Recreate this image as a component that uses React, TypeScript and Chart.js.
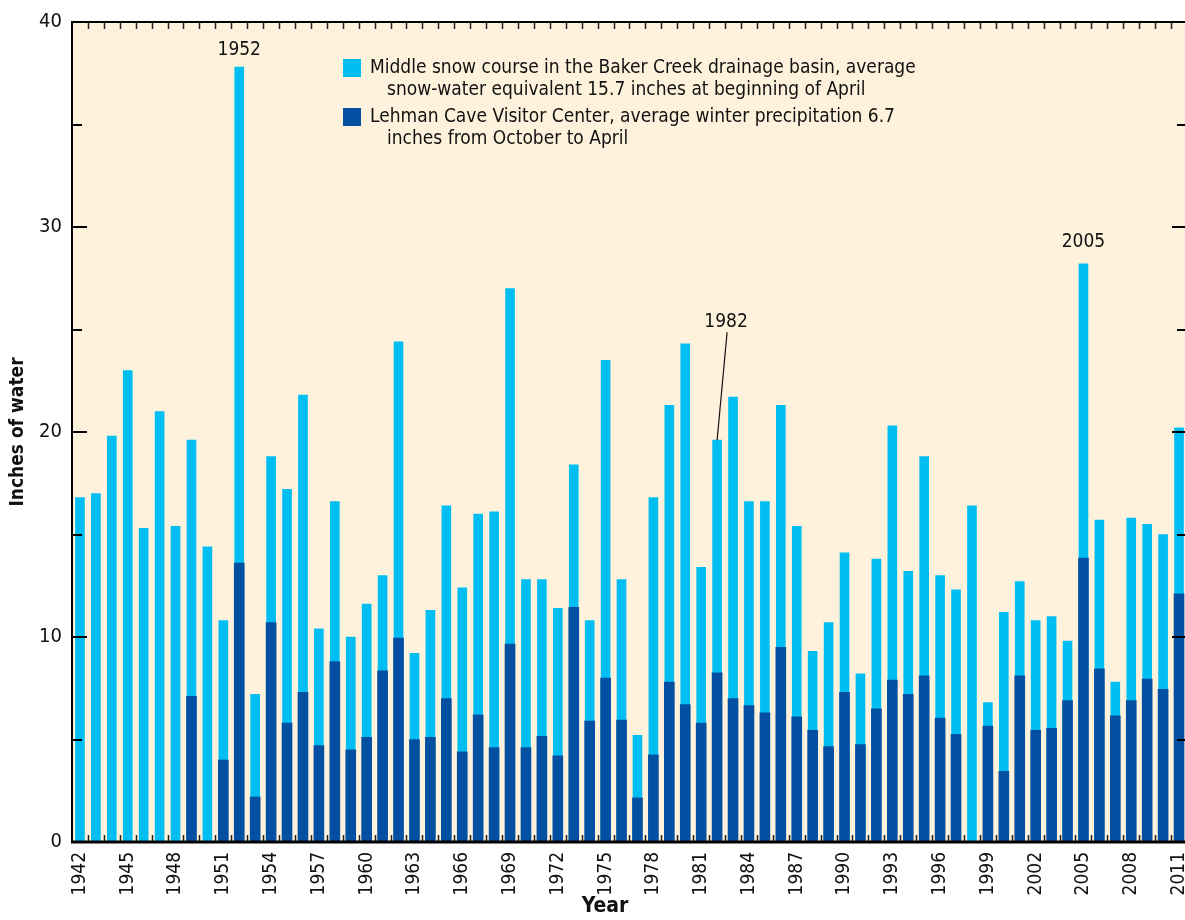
import { useEffect, useRef } from "react";
import { Chart, registerables } from "chart.js";

Chart.register(...registerables);

const years = [
  "1942","1943","1944","1945","1946","1947","1948","1949","1950","1951",
  "1952","1953","1954","1955","1956","1957","1958","1959","1960","1961",
  "1962","1963","1964","1965","1966","1967","1968","1969","1970","1971",
  "1972","1973","1974","1975","1976","1977","1978","1979","1980","1981",
  "1982","1983","1984","1985","1986","1987","1988","1989","1990","1991",
  "1992","1993","1994","1995","1996","1997","1998","1999","2000","2001",
  "2002","2003","2004","2005","2006","2007","2008","2009","2010","2011",
];

// Middle snow course, Baker Creek drainage basin (snow-water equivalent, inches, beginning of April)
const snowWater = [
  16.8, 17.0, 19.8, 23.0, 15.3, 21.0, 15.4, 19.6, 14.4, 10.8,
  37.8, 7.2, 18.8, 17.2, 21.8, 10.4, 16.6, 10.0, 11.6, 13.0,
  24.4, 9.2, 11.3, 16.4, 12.4, 16.0, 16.1, 27.0, 12.8, 12.8,
  11.4, 18.4, 10.8, 23.5, 12.8, 5.2, 16.8, 21.3, 24.3, 13.4,
  19.6, 21.7, 16.6, 16.6, 21.3, 15.4, 9.3, 10.7, 14.1, 8.2,
  13.8, 20.3, 13.2, 18.8, 13.0, 12.3, 16.4, 6.8, 11.2, 12.7,
  10.8, 11.0, 9.8, 28.2, 15.7, 7.8, 15.8, 15.5, 15.0, 20.2,
];

// Lehman Cave Visitor Center winter precipitation (inches, October to April)
const precipitation = [
  null, null, null, null, null, null, null, 7.1, null, 4.0,
  13.6, 2.2, 10.7, 5.8, 7.3, 4.7, 8.8, 4.5, 5.1, 8.35,
  9.95, 5.0, 5.1, 7.0, 4.4, 6.2, 4.6, 9.65, 4.6, 5.15,
  4.2, 11.45, 5.9, 8.0, 5.95, 2.15, 4.25, 7.8, 6.7, 5.8,
  8.25, 7.0, 6.65, 6.3, 9.5, 6.1, 5.45, 4.65, 7.3, 4.75,
  6.5, 7.9, 7.2, 8.1, 6.05, 5.25, null, 5.65, 3.45, 8.1,
  5.45, 5.55, 6.9, 13.85, 8.45, 6.15, 6.9, 7.95, 7.45, 12.1,
];

const labeledXTicks = [
  "1942","1945","1948","1951","1954","1957","1960","1963","1966","1969",
  "1972","1975","1978","1981","1984","1987","1990","1993","1996","1999",
  "2002","2005","2008","2011",
];

const yMajorTicks = [0, 10, 20, 30, 40];
const yMinorTicks = [5, 15, 25, 35];

const annotatedYears = ["1952", "1982", "2005"];

const legendLines = [
  ["Middle snow course in the Baker Creek drainage basin, average", "snow-water equivalent 15.7 inches at beginning of April"],
  ["Lehman Cave Visitor Center, average winter precipitation 6.7", "inches from October to April"],
];

const xTitle = "Year";
const yTitle = "Inches of water";

const LIGHT = "#00BEF2";
const DARK = "#0350A3";
const BG = "#FEF2DC";
const FONT = "'Liberation Sans Narrow', 'DejaVu Sans Condensed', 'Roboto Condensed', Roboto, sans-serif";

const decorPlugin = {
  id: "decor",
  beforeDraw(chart: any) {
    const { ctx, chartArea: a } = chart;
    ctx.save();
    ctx.fillStyle = "#ffffff";
    ctx.fillRect(0, 0, chart.width, chart.height);
    ctx.fillStyle = BG;
    ctx.fillRect(a.left, a.top, a.right - a.left, a.bottom - a.top);
    ctx.restore();
  },
  afterDatasetsDraw(chart: any) {
    const { ctx, chartArea: a } = chart;
    const xs = chart.scales.x;
    const ys = chart.scales.y;
    ctx.save();
    // category boundary ticks (top and bottom, inward)
    const w = xs.getPixelForValue(1) - xs.getPixelForValue(0);
    ctx.strokeStyle = "#222";
    ctx.lineWidth = 1.5;
    for (let i = 0; i < years.length - 1; i++) {
      const x = Math.round(xs.getPixelForValue(i) + w / 2) + 0.5;
      ctx.beginPath();
      ctx.moveTo(x, a.bottom);
      ctx.lineTo(x, a.bottom - 7);
      ctx.moveTo(x, a.top);
      ctx.lineTo(x, a.top + 7);
      ctx.stroke();
    }
    // y ticks, left and right, inward
    ctx.strokeStyle = "#000";
    ctx.lineWidth = 2;
    const drawY = (v: number, len: number) => {
      const y = Math.round(ys.getPixelForValue(v));
      ctx.beginPath();
      ctx.moveTo(a.left, y);
      ctx.lineTo(a.left + len, y);
      ctx.moveTo(a.right, y);
      ctx.lineTo(a.right - len, y);
      ctx.stroke();
    };
    yMajorTicks.forEach((v) => drawY(v, 15));
    yMinorTicks.forEach((v) => drawY(v, 10));
    // frame
    ctx.lineWidth = 2;
    ctx.beginPath();
    ctx.moveTo(a.left, a.bottom);
    ctx.lineTo(a.left, a.top);
    ctx.lineTo(a.right, a.top);
    ctx.lineTo(a.right, a.bottom);
    ctx.stroke();
    ctx.lineWidth = 3;
    ctx.beginPath();
    ctx.moveTo(a.left - 1, a.bottom);
    ctx.lineTo(a.right + 1, a.bottom);
    ctx.stroke();

    // annotations
    ctx.fillStyle = "#111";
    ctx.font = `19px ${FONT}`;
    ctx.textAlign = "center";
    ctx.textBaseline = "middle";
    annotatedYears.forEach((yr) => {
      const i = years.indexOf(yr);
      const x = xs.getPixelForValue(i);
      const top = ys.getPixelForValue(snowWater[i]);
      if (yr === "1982") {
        ctx.strokeStyle = "#111";
        ctx.lineWidth = 1.2;
        ctx.beginPath();
        ctx.moveTo(x, top);
        ctx.lineTo(x + 10, top - 108);
        ctx.stroke();
        ctx.fillText(yr, x + 9, top - 118);
      } else if (yr === "1952") {
        ctx.fillText(yr, x, top - 17);
      } else {
        ctx.fillText(yr, x, top - 22);
      }
    });

    // legend
    const colors = [LIGHT, DARK];
    ctx.textAlign = "left";
    ctx.font = `19px ${FONT}`;
    legendLines.forEach((lines, k) => {
      const y0 = 59 + k * 49;
      ctx.fillStyle = colors[k];
      ctx.fillRect(343, y0, 18, 18);
      ctx.fillStyle = "#111";
      ctx.fillText(lines[0], 370, y0 + 9);
      ctx.fillText(lines[1], 387, y0 + 31);
    });

    // x axis title
    ctx.textAlign = "center";
    ctx.font = `bold 21px ${FONT}`;
    ctx.fillText(xTitle, 605, 907);
    ctx.restore();
  },
};

export default function App() {
  const ref = useRef<HTMLCanvasElement>(null);
  useEffect(() => {
    document.body.style.margin = "0";
    const chart = new Chart(ref.current!, {
      type: "bar",
      data: {
        labels: years,
        datasets: [
          {
            label: "Middle snow course in the Baker Creek drainage basin",
            data: snowWater,
            backgroundColor: LIGHT,
            barThickness: 9,
            grouped: false,
            order: 2,
          },
          {
            label: "Lehman Cave Visitor Center",
            data: precipitation as any,
            backgroundColor: DARK,
            barThickness: 10,
            grouped: false,
            order: 1,
          },
        ],
      },
      options: {
        responsive: false,
        animation: false,
        layout: { padding: { top: 19, right: 23.5, left: 0, bottom: 0 } },
        plugins: { legend: { display: false }, tooltip: { enabled: false } },
        scales: {
          x: {
            type: "category",
            offset: true,
            grid: { display: false, drawTicks: false },
            border: { display: false },
            ticks: {
              autoSkip: false,
              maxRotation: 90,
              minRotation: 90,
              padding: 10,
              color: "#111",
              font: { family: FONT, size: 19 },
              callback: (_v: any, i: number) => (labeledXTicks.includes(years[i]) ? years[i] : ""),
            },
            afterFit: (s: any) => {
              s.height = 78;
            },
          },
          y: {
            min: 0,
            max: 40,
            grid: { display: false, drawTicks: false },
            border: { display: false },
            ticks: {
              stepSize: 10,
              padding: 10,
              color: "#111",
              font: { family: FONT, size: 20 },
            },
            title: {
              display: true,
              text: yTitle,
              color: "#111",
              font: { family: FONT, size: 19, weight: "bold" },
              padding: { top: 7, bottom: 0 },
            },
            afterFit: (s: any) => {
              s.width = 72;
            },
          },
        },
      },
      plugins: [decorPlugin],
    });
    return () => chart.destroy();
  }, []);
  return (
    <div style={{ position: "absolute", left: 0, top: 0, width: 1185, height: 920, overflow: "hidden", background: "#fff" }}>
      <canvas ref={ref} width={1212} height={920} />
    </div>
  );
}
